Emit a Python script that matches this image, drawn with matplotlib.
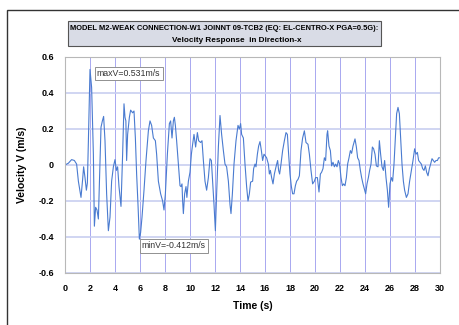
import matplotlib.pyplot as plt
import matplotlib.patches as patches
import numpy as np

plt.rcParams['font.family'] = ['Liberation Sans', 'DejaVu Sans']

# velocity history (s, m/s)
t = [0.00, 0.27, 0.53, 0.75, 0.93, 1.07, 1.28, 1.41, 1.49, 1.60, 1.71, 1.79, 1.87,
     2.00, 2.13, 2.27, 2.35, 2.45, 2.56, 2.67, 2.77, 2.88, 2.99, 3.09, 3.20, 3.33,
     3.47, 3.60, 3.73, 3.87, 4.00, 4.11, 4.21, 4.32, 4.48, 4.61, 4.72, 4.80, 4.87,
     4.93, 5.01, 5.15, 5.25, 5.41, 5.52, 5.63, 5.73, 5.84, 5.95, 6.05, 6.16, 6.32,
     6.48, 6.67, 6.80, 6.93, 7.07, 7.23, 7.33, 7.47, 7.65, 7.81, 7.92, 8.03, 8.19,
     8.35, 8.45, 8.56, 8.67, 8.75, 8.83, 8.93, 9.07, 9.20, 9.28, 9.36, 9.41, 9.47,
     9.57, 9.68, 9.75, 9.87, 10.00, 10.11, 10.21, 10.32, 10.45, 10.59, 10.69, 10.85,
     10.96, 11.07, 11.20, 11.33, 11.47, 11.60, 11.71, 11.81, 11.92, 12.03, 12.13,
     12.27, 12.40, 12.53, 12.67, 12.80, 12.93, 13.07, 13.20, 13.28, 13.39, 13.52,
     13.68, 13.84, 13.95, 14.05, 14.13, 14.27, 14.40, 14.53, 14.64, 14.75, 14.85,
     15.01, 15.09, 15.20, 15.28, 15.39, 15.49, 15.60, 15.71, 15.81, 15.92, 16.03,
     16.13, 16.27, 16.35, 16.43, 16.53, 16.64, 16.75, 16.88, 17.01, 17.09, 17.17,
     17.28, 17.41, 17.55, 17.68, 17.79, 17.89, 18.00, 18.11, 18.21, 18.32, 18.43,
     18.53, 18.64, 18.75, 18.88, 19.01, 19.15, 19.28, 19.44, 19.55, 19.68, 19.81,
     19.95, 20.05, 20.19, 20.32, 20.43, 20.53, 20.64, 20.75, 20.85, 20.96, 21.01,
     21.12, 21.23, 21.33, 21.44, 21.55, 21.65, 21.76, 21.87, 21.97, 22.08, 22.19,
     22.29, 22.40, 22.51, 22.61, 22.72, 22.83, 22.93, 23.04, 23.20, 23.31, 23.41,
     23.52, 23.63, 23.73, 23.84, 23.95, 24.05, 24.16, 24.27, 24.37, 24.48, 24.59,
     24.69, 24.80, 24.91, 25.04, 25.15, 25.25, 25.36, 25.47, 25.57, 25.68, 25.79,
     25.89, 26.00, 26.11, 26.21, 26.32, 26.43, 26.53, 26.64, 26.75, 26.85, 26.96,
     27.07, 27.17, 27.31, 27.44, 27.57, 27.71, 27.84, 27.97, 28.08, 28.19, 28.29,
     28.40, 28.51, 28.61, 28.72, 28.83, 28.93, 29.04, 29.15, 29.25, 29.36, 29.47,
     29.57, 29.68, 29.79, 29.89, 30.00]
v = [0.00, 0.01, 0.03, 0.025, 0.005, -0.09, -0.18, -0.08, -0.01, -0.07, -0.14, -0.10, 0.13,
     0.531, 0.43, 0.06, -0.34, -0.235, -0.25, -0.30, -0.05, 0.21, 0.245, 0.27, 0.135, -0.16,
     -0.365, -0.29, -0.09, -0.01, 0.03, -0.03, -0.01, -0.12, -0.23, 0.06, 0.34, 0.265, 0.245,
     0.025, 0.17, 0.265, 0.305, 0.29, 0.30, 0.15, -0.05, -0.22, -0.412, -0.375, -0.29, -0.14,
     0.025, 0.19, 0.245, 0.22, 0.15, 0.135, 0.06, -0.09, -0.16, -0.20, -0.25, -0.16, 0.06,
     0.23, 0.245, 0.15, 0.245, 0.265, 0.22, 0.135, 0.005, -0.115, -0.12, -0.105, -0.20, -0.27,
     -0.16, -0.12, -0.18, -0.09, -0.04, 0.06, 0.115, 0.17, 0.10, 0.18, 0.135, 0.125,
     0.135, 0.025, -0.09, -0.14, -0.07, 0.035, 0.025, -0.09, -0.22, -0.365, -0.16,
     0.10, 0.275, 0.17, 0.08, 0.005, -0.01, -0.09, -0.22, -0.27, -0.16, 0.005,
     0.135, 0.22, 0.20, 0.23, 0.17, 0.15, 0.005, -0.12, -0.20, -0.16, -0.095,
     -0.09, -0.02, 0.005, -0.01, 0.06, 0.105, 0.13, 0.08, 0.025, 0.06, 0.05,
     0.04, 0.005, -0.05, -0.03, -0.07, -0.105, -0.05, -0.01, 0.025, -0.03, -0.05,
     0.005, 0.08, 0.135, 0.18, 0.17, 0.06, -0.05, -0.12, -0.16, -0.16, -0.115,
     -0.09, -0.08, -0.06, 0.08, 0.15, 0.19, 0.125, 0.115, 0.06, -0.03, -0.105,
     -0.09, -0.07, -0.07, -0.15, -0.05, -0.04, -0.02, 0.04, 0.025, 0.17, 0.19,
     0.105, 0.08, -0.005, 0.015, -0.01, 0.005, -0.01, 0.025, 0.005, -0.07, -0.115,
     -0.105, -0.115, -0.07, 0.005, 0.04, 0.08, 0.065, 0.105, 0.145, 0.10, 0.04,
     0.025, -0.03, -0.07, -0.105, -0.135, -0.16, -0.105, -0.07, -0.03, 0.005, 0.10,
     0.09, 0.06, -0.005, -0.01, 0.135, 0.06, -0.01, -0.03, 0.025, -0.07, -0.14,
     -0.235, -0.105, -0.07, -0.09, 0.005, 0.155, 0.285, 0.32, 0.285, 0.155, 0.005,
     -0.09, -0.14, -0.18, -0.16, -0.09, -0.03, 0.025, 0.09, 0.06, 0.07, 0.025,
     0.015, 0.005, -0.02, -0.03, -0.005, -0.04, -0.06, -0.02, 0.005, 0.035, 0.025,
     0.015, 0.025, 0.025, 0.04, 0.04]

title1 = "MODEL M2-WEAK CONNECTION-W1 JOINNT 09-TCB2 (EQ: EL-CENTRO-X PGA=0.5G):"
title2 = "Velocity Response  in Direction-x"

W, H = 460, 325
fig = plt.figure(figsize=(W / 100, H / 100), dpi=100)

# outer chart frame (only left and top edges visible)
fig.add_artist(patches.Rectangle((7.3 / W, -0.1), 1.2, 1 - 10 / H + 0.1,
                                 transform=fig.transFigure, fill=False,
                                 edgecolor='#333333', lw=1.0))

ax = fig.add_axes([65 / W, 1 - 273 / H, 375 / W, 216 / H])
ax.plot(t, v, color='#4A7BD0', lw=0.8)

ax.set_xlim(0, 30)
ax.set_ylim(-0.6, 0.6)
ax.set_xticks(np.arange(0, 31, 2))
ax.set_yticks(np.arange(-0.6, 0.61, 0.2))
ax.set_yticklabels(['-0.6', '-0.4', '-0.2', '0', '0.2', '0.4', '0.6'])
ax.tick_params(length=0, labelsize=6.5, pad=8)
for lab in ax.get_xticklabels() + ax.get_yticklabels():
    lab.set_fontweight('bold')

ax.xaxis.grid(True, color='#A8A8F0', lw=0.7)
ax.yaxis.grid(True, color='#C8CEF0', lw=1.2)
ax.set_axisbelow(True)
for s in ax.spines.values():
    s.set_color('#B8B8B8')
    s.set_linewidth(0.8)

ax.set_xlabel('Time (s)', fontsize=7.5, fontweight='bold', labelpad=6)
ax.set_ylabel('Velocity V (m/s)', fontsize=7.5, fontweight='bold', labelpad=8)

ann = dict(boxstyle='square,pad=0.25', fc='white', ec='#909090', lw=0.7)
ax.text(2.55, 0.508, 'maxV=0.531m/s', fontsize=6.3, color='#333333',
        va='center', ha='left', bbox=ann)
ax.text(6.15, -0.45, 'minV=-0.412m/s', fontsize=6.3, color='#333333',
        va='center', ha='left', bbox=ann)

# title box
fig.add_artist(patches.Rectangle((67.7 / W, 1 - 45.7 / H), 313.3 / W, 24.7 / H,
                                 transform=fig.transFigure, facecolor='#D9DCE6',
                                 edgecolor='#555555', lw=0.8))
fig.text(224.4 / W, 1 - 28.3 / H, title1, ha='center', va='center',
         fontsize=5.4, fontweight='bold')
fig.text(237 / W, 1 - 40 / H, title2, ha='center', va='center',
         fontsize=5.9, fontweight='bold')

fig.savefig('out.png', dpi=100)
